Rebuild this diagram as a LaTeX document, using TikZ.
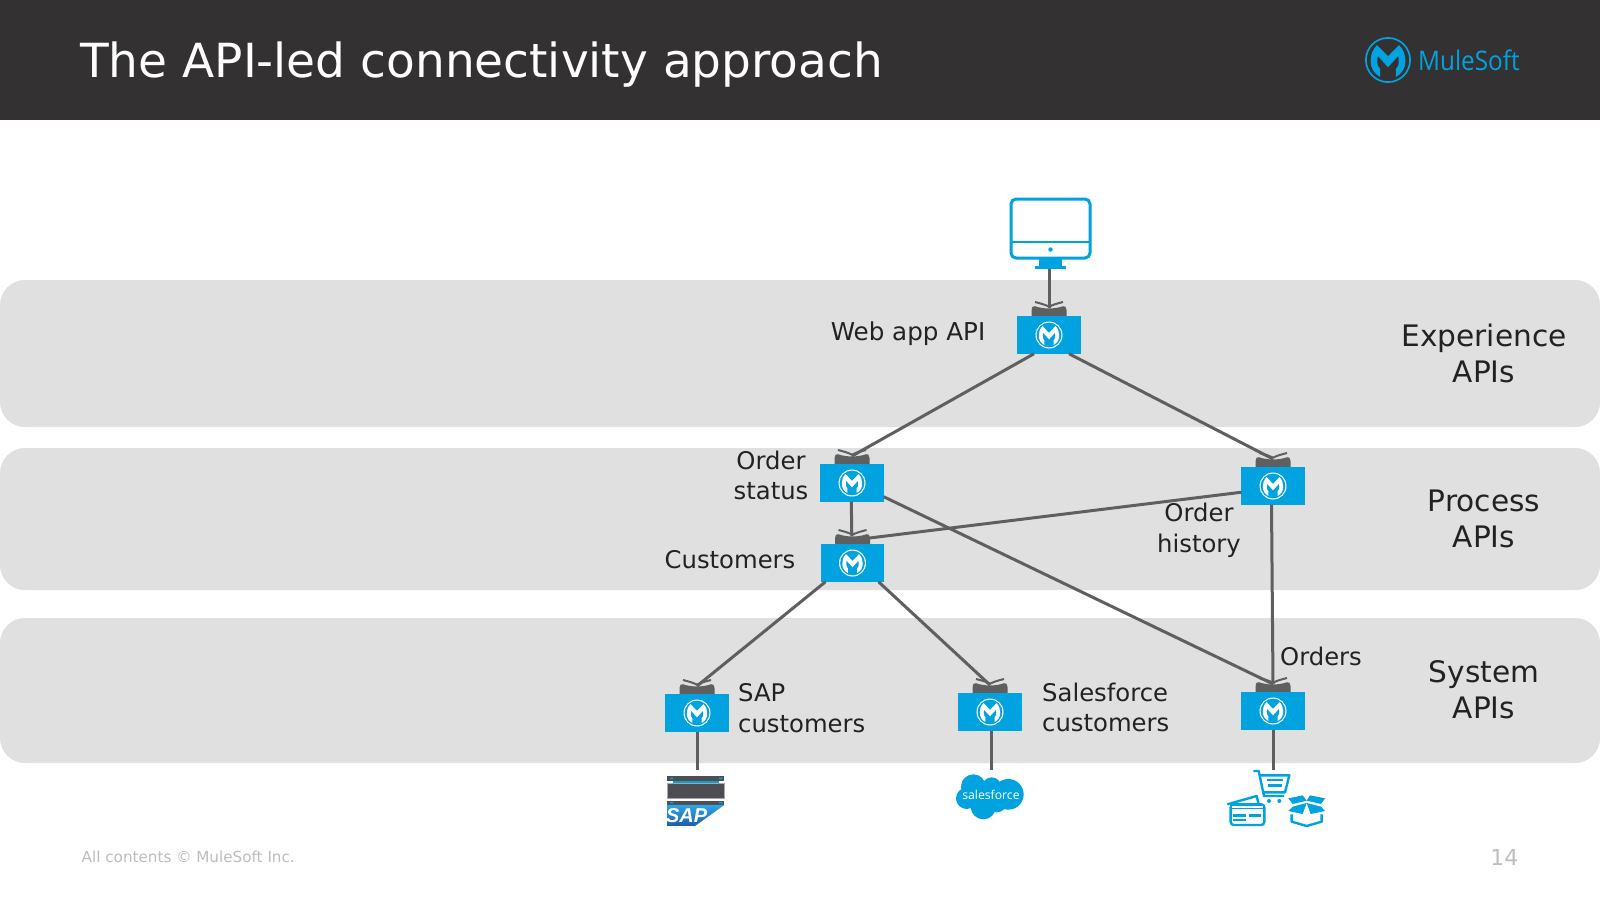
\documentclass[tikz,border=0pt]{standalone}
\usepackage{fontspec}
\setmainfont{DejaVu Sans}
\newfontfamily\logofont[FakeStretch=0.9]{Open Sans}
\newfontfamily\sffont{Open Sans}
\newfontfamily\sapfont{Liberation Sans}
\definecolor{hdr}{HTML}{333132}
\definecolor{band}{HTML}{E0E0E0}
\definecolor{mblue}{HTML}{00A2DF}
\definecolor{cgrey}{HTML}{5F5F61}
\definecolor{ink}{HTML}{222222}
\definecolor{foot}{HTML}{BDBDBD}
\definecolor{saptop}{HTML}{2FA6E4}
\definecolor{sapbot}{HTML}{1B5CB0}
\definecolor{slab}{HTML}{4E4E52}
\tikzset{
  x=1pt,y=-1pt,
  bandbox/.style={fill=band,draw=none,rounded corners=25pt},
  apibox/.style={fill=mblue,draw=none,minimum width=63.5pt,minimum height=37.5pt,inner sep=0pt,outer sep=0pt},
  wing/.style={draw=cgrey,line width=2pt},
  conn/.style={draw=cgrey,line width=3pt},
  lbl/.style={text=ink,font=\fontsize{24.3}{30.6}\selectfont,align=center,inner sep=0pt},
  lbll/.style={lbl,align=left},
  bandlbl/.style={text=ink,font=\fontsize{29.6}{36}\selectfont,align=center,inner sep=0pt},
  icon/.style={draw=mblue,line width=2.4pt,line join=round},
  mule/.pic={
    \fill[pic actions,even odd rule] (0,0) circle[radius=13.5] (0,0) circle[radius=12.5];
    \fill[pic actions] (-4.6,10) .. controls (-8.2,8) and (-10.2,5) .. (-10.2,0.5)
      .. controls (-10.2,-3) and (-9.2,-6) .. (-6.5,-8.8) -- (0,-2.2) -- (6.5,-8.8)
      .. controls (9.2,-6) and (10.2,-3) .. (10.2,0.5) .. controls (10.2,5) and (8.2,8) .. (4.6,10)
      -- (4.6,5.3) .. controls (5.8,4.5) and (6.3,3) .. (6.3,0.5)
      .. controls (6.3,-.5) and (6.2,-1.5) .. (5.9,-2.3) -- (0,4.3) -- (-5.9,-2.3)
      .. controls (-6.2,-1.5) and (-6.3,-.5) .. (-6.3,0.5) .. controls (-6.3,3) and (-5.8,4.5) .. (-4.6,5.3) -- cycle;
  }
}
\newcommand{\apinode}[3]{%
  \fill[cgrey] (#2-17.5,#3-15) -- (#2-17.5,#3-25) .. controls (#2-17.5,#3-28) and (#2-16,#3-29.3) .. (#2-14,#3-28.8)
     .. controls (#2-6,#3-25.8) and (#2+6,#3-25.8) .. (#2+14,#3-28.8)
     .. controls (#2+16,#3-29.3) and (#2+17.5,#3-28) .. (#2+17.5,#3-25) -- (#2+17.5,#3-15) -- cycle;
  \draw[wing] (#2-14,#3-33) .. controls (#2-8,#3-31.5) and (#2-3,#3-30) .. (#2,#3-28.3)
     .. controls (#2+3,#3-30) and (#2+8,#3-31.5) .. (#2+14,#3-33);
  \coordinate (#1cap) at (#2,#3-27);
  \node[apibox] (#1) at (#2,#3) {};
  \pic[fill=white] at (#1) {mule};
}
\begin{document}
\begin{tikzpicture}
\useasboundingbox (0,0) rectangle (1600,900);
\fill[white] (0,0) rectangle (1600,900);
\fill[hdr] (0,0) rectangle (1600,120);
\node[anchor=west,text=white,inner sep=0pt,font=\fontsize{47}{56}\selectfont] (title) at (80,64.5) {The API-led connectivity approach};
\pic[fill=mblue,scale=1.7] at (1388,60) {mule};
\node[anchor=west,text=mblue,inner sep=0pt,font=\logofont\fontsize{27}{30}\selectfont] (logotext) at (1418,60) {MuleSoft};

\fill[bandbox] (0,280) rectangle (1600,427);
\fill[bandbox] (0,448) rectangle (1600,590);
\fill[bandbox] (0,618) rectangle (1600,763);

% monitor
\draw[icon,line width=3pt,rounded corners=5pt] (1011,199) rectangle (1090,258);
\draw[icon] (1011,242) -- (1090,242);
\fill[mblue] (1050.5,249.5) circle[radius=2.2];
\fill[mblue] (1039,259) rectangle (1062,266);
\node[fill=mblue,minimum width=31pt,minimum height=2.5pt,inner sep=0pt,outer sep=0pt] (monitor) at (1050.5,267.5) {};

% API nodes
\apinode{web}{1049}{335}
\apinode{status}{852}{483}
\apinode{customers}{852.5}{563}
\apinode{history}{1273}{486}
\apinode{sap}{697}{713}
\apinode{sf}{990}{712}
\apinode{orders}{1273}{711}

% connectors
\draw[conn] ([xshift=-1.5pt]monitor.south) -- (webcap);
\draw[conn] ([xshift=-15pt]web.south) -- (statuscap);
\draw[conn] ([xshift=20pt]web.south) -- (historycap);
\draw[conn] ([xshift=-0.7pt]status.south) -- ([xshift=-0.7pt]customerscap);
\draw[conn] ([yshift=5pt]status.south east) -- (orderscap);
\draw[conn] ([yshift=-25pt]history.north west) -- ([xshift=17pt,yshift=-2pt]customerscap);
\draw[conn] ([xshift=-1.5pt]history.south) -- (orderscap);
\draw[conn] ([xshift=-27pt]customers.south) -- (sapcap);
\draw[conn] ([xshift=26pt]customers.south) -- (sfcap);
\coordinate (sapicon) at (697,770);
\coordinate (sficon) at (991,770);
\coordinate (ordersicon) at (1273,770);
\draw[conn] (sap.south) -- (sapicon);
\draw[conn] ([xshift=1pt]sf.south) -- (sficon);
\draw[conn] (orders.south) -- (ordersicon);

% labels
\node[lbl,font=\fontsize{24.6}{30.6}\selectfont] (lweb) at (908,334) {Web app API};
\node[lbl] (lstatus) at (771,475.5) {Order\\status};
\node[lbl] (lcust) at (730,559.5) {Customers};
\node[lbl] (lhist) at (1199,530.5) {Order\\history};
\node[lbl] (lord) at (1321,656.5) {Orders};
\node[lbll,anchor=west] (lsap) at (738,708) {SAP\\customers};
\node[lbll,anchor=west] (lsfc) at (1042,707.5) {Salesforce\\customers};
\node[bandlbl] (bexp) at (1484,353.5) {Experience\\APIs};
\node[bandlbl] (bpro) at (1484,519) {Process\\APIs};
\node[bandlbl] (bsys) at (1484,690) {System\\APIs};

% SAP icon
\begin{scope}[shift={(640,670)},x=0.3333pt,y=-0.3333pt]
  \fill[mblue] (98,330) rectangle (238,338);
  \fill[slab] (82,318) rectangle (253,332);
  \fill[mblue] (90,323) rectangle (100,327) (237,323) rectangle (248,327);
  \fill[slab] (82,340) rectangle (253,385);
  \draw[gray!70,line width=0.8pt] (82,340) rectangle (253,385);
  \fill[slab] (82,392) rectangle (253,405);
  \fill[mblue] (90,396) rectangle (100,400) (237,396) rectangle (248,400);
  \shade[top color=saptop,bottom color=sapbot] (81,405) -- (253,405) -- (165,468) -- (81,468) -- cycle;
  \node[text=white,inner sep=0pt,font=\sapfont\bfseries\itshape\fontsize{20}{20}\selectfont] (saptxt) at (140,436) {SAP};
\end{scope}

% salesforce cloud
\begin{scope}[shift={(940,670)},x=0.3333pt,y=-0.3333pt]
  \fill[mblue] (100,350) circle[radius=37] (155,350) circle[radius=28] (205,373) circle[radius=46]
    (130,410) circle[radius=38] (80,385) circle[radius=32] (170,395) circle[radius=32] (150,380) circle[radius=40];
  \node[text=white,inner sep=0pt,font=\sffont\fontsize{12.2}{14}\selectfont] (sftxt) at (153,375) {salesforce};
\end{scope}

% cart, card, box
\begin{scope}[shift={(1210,670)},x=0.3333pt,y=-0.3333pt]
  \draw[icon] (130,303) -- (146,303) -- (162,378) -- (222,378);
  \draw[icon] (149,316) -- (238,316) -- (225,367) -- (160,367);
  \draw[icon] (172,330) -- (218,330);
  \draw[icon] (175,347) -- (215,347);
  \fill[mblue] (177,393) circle[radius=6] (208,393) circle[radius=6];
  % card
  \draw[icon] (52,403) -- (140,378) -- (146,403);
  \draw[icon,rounded corners=3pt] (62,403) rectangle (163,465);
  \fill[mblue] (62,403) rectangle (163,418);
  \fill[white] (66,408) rectangle (159,415);
  \draw[icon] (68,437) -- (108,437);
  \draw[icon] (68,450) -- (108,450);
  \draw[icon,dash pattern=on 12pt off 3pt] (118,437) -- (158,437);
  % box
  \fill[mblue] (235,385) -- (278,376) -- (290,392) -- (248,402) -- cycle;
  \fill[mblue] (300,376) -- (345,385) -- (333,402) -- (290,392) -- cycle;
  \fill[mblue] (248,410) -- (290,399) -- (278,432) -- (235,423) -- cycle;
  \fill[mblue] (333,410) -- (290,399) -- (302,432) -- (345,423) -- cycle;
  \draw[icon] (245,433) -- (245,455) -- (290,468) -- (335,455) -- (335,433);
\end{scope}

% footer
\node[anchor=west,text=foot,inner sep=0pt,font=\fontsize{15.2}{18}\selectfont] (foot) at (81.5,857) {All contents © MuleSoft Inc.};
\node[anchor=east,text=foot,inner sep=0pt,font=\fontsize{22}{26}\selectfont] (pg) at (1518.5,857) {14};
\end{tikzpicture}
\end{document}
